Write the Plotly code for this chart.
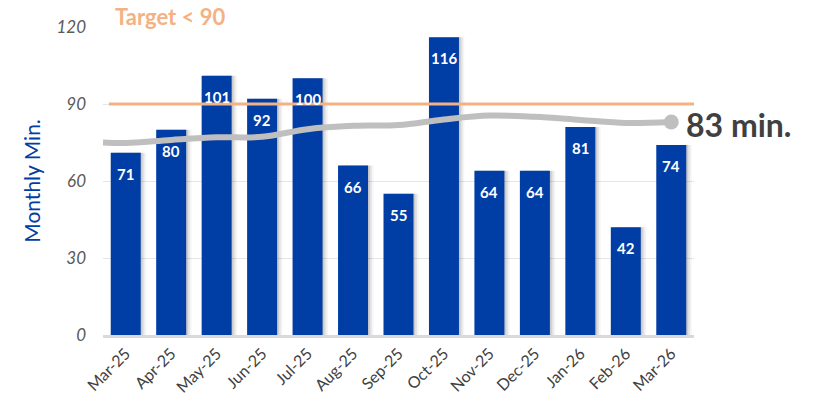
import plotly.graph_objects as go

# data
months = ["Mar-25", "Apr-25", "May-25", "Jun-25", "Jul-25", "Aug-25", "Sep-25",
          "Oct-25", "Nov-25", "Dec-25", "Jan-26", "Feb-26", "Mar-26"]
monthly_min = [71, 80, 101, 92, 100, 66, 55, 116, 64, 64, 81, 42, 74]
# smoothed running average (line starts half a category before Mar-25)
trend_start = 75
trend = [74.8, 76, 77, 77.2, 80.2, 81.5, 81.8, 84, 85.5, 85, 83.8, 82.6, 83]
target = 90
trend_label = "83 min."

BLUE = "#003DA5"
ORANGE = "#F4B183"
GREY = "#BFBFBF"
FONT = "Lato"

idx = list(range(len(months)))

fig = go.Figure()
# soft shadow behind bars
for k, a in enumerate([0.10, 0.07, 0.04]):
    fig.add_trace(go.Bar(
        x=idx, y=monthly_min, marker=dict(color=f"rgba(0,0,0,{a})", line=dict(width=0)),
        width=0.66, offset=-0.33 + 0.04 * (k + 1), hoverinfo="skip"))
fig.add_trace(go.Bar(
    x=idx, y=monthly_min, marker=dict(color=BLUE, line=dict(width=0)),
    width=0.66, offset=-0.33, hoverinfo="skip"))

fig.add_shape(type="line", xref="paper", yref="y", x0=0.01, x1=1,
              y0=target, y1=target, line=dict(color=ORANGE, width=3), layer="above")

fig.add_trace(go.Scatter(
    x=[-0.5] + idx, y=[trend_start] + trend, mode="lines",
    line=dict(color=GREY, width=6, shape="spline", smoothing=1.0),
    hoverinfo="skip"))
fig.add_trace(go.Scatter(
    x=[idx[-1]], y=[trend[-1]], mode="markers",
    marker=dict(color=GREY, size=15), hoverinfo="skip"))

for i, v in zip(idx, monthly_min):
    fig.add_annotation(x=i, y=v, text=f"<b>{v}</b>", showarrow=False,
                       yshift=-21, font=dict(family=FONT, size=15, color="white"))

fig.add_annotation(x=idx[-1], y=trend[-1], text=f"<b>{trend_label}</b>",
                   showarrow=False, xanchor="left", xshift=13, yshift=-3,
                   font=dict(family=FONT, size=32, color="#404040"))
fig.add_annotation(xref="paper", x=0, yref="y", y=120, yanchor="middle",
                   xanchor="left", xshift=10, yshift=11,
                   text=f"<b>Target &lt; {target}</b>", showarrow=False,
                   font=dict(family=FONT, size=22, color=ORANGE))

fig.update_layout(
    width=816, height=401,
    margin=dict(l=103, r=122, t=27, b=66),
    paper_bgcolor="white", plot_bgcolor="white",
    showlegend=False, barmode="overlay",
    font=dict(family=FONT),
    xaxis=dict(
        tickmode="array", tickvals=idx, ticktext=months, tickangle=-45,
        range=[-0.5, len(months) - 0.5], showgrid=False, zeroline=False,
        showline=True, linecolor="#D9D9D9", linewidth=3, automargin=False,
        tickfont=dict(family=FONT, size=16, color="#404040"),
    ),
    yaxis=dict(
        range=[0, 120], tickvals=[0, 30, 60, 90, 120],
        ticktext=["<i>0</i>", "<i>30</i>", "<i>60</i>", "<i>90</i>", "<i>120</i>"],
        showgrid=True, gridcolor="#E6E6E6", gridwidth=1, zeroline=False,
        tickfont=dict(family=FONT, size=17, color="#595959"),
        ticklabelstandoff=16, automargin=False,
        title=dict(text="Monthly Min.", standoff=10,
                   font=dict(family=FONT, size=21, color=BLUE)),
    ),
)

# drop the page's default body margin so the figure fills the window
fig.write_html("out.html", config={"displayModeBar": False},
               post_script="document.body.style.margin='0';")
